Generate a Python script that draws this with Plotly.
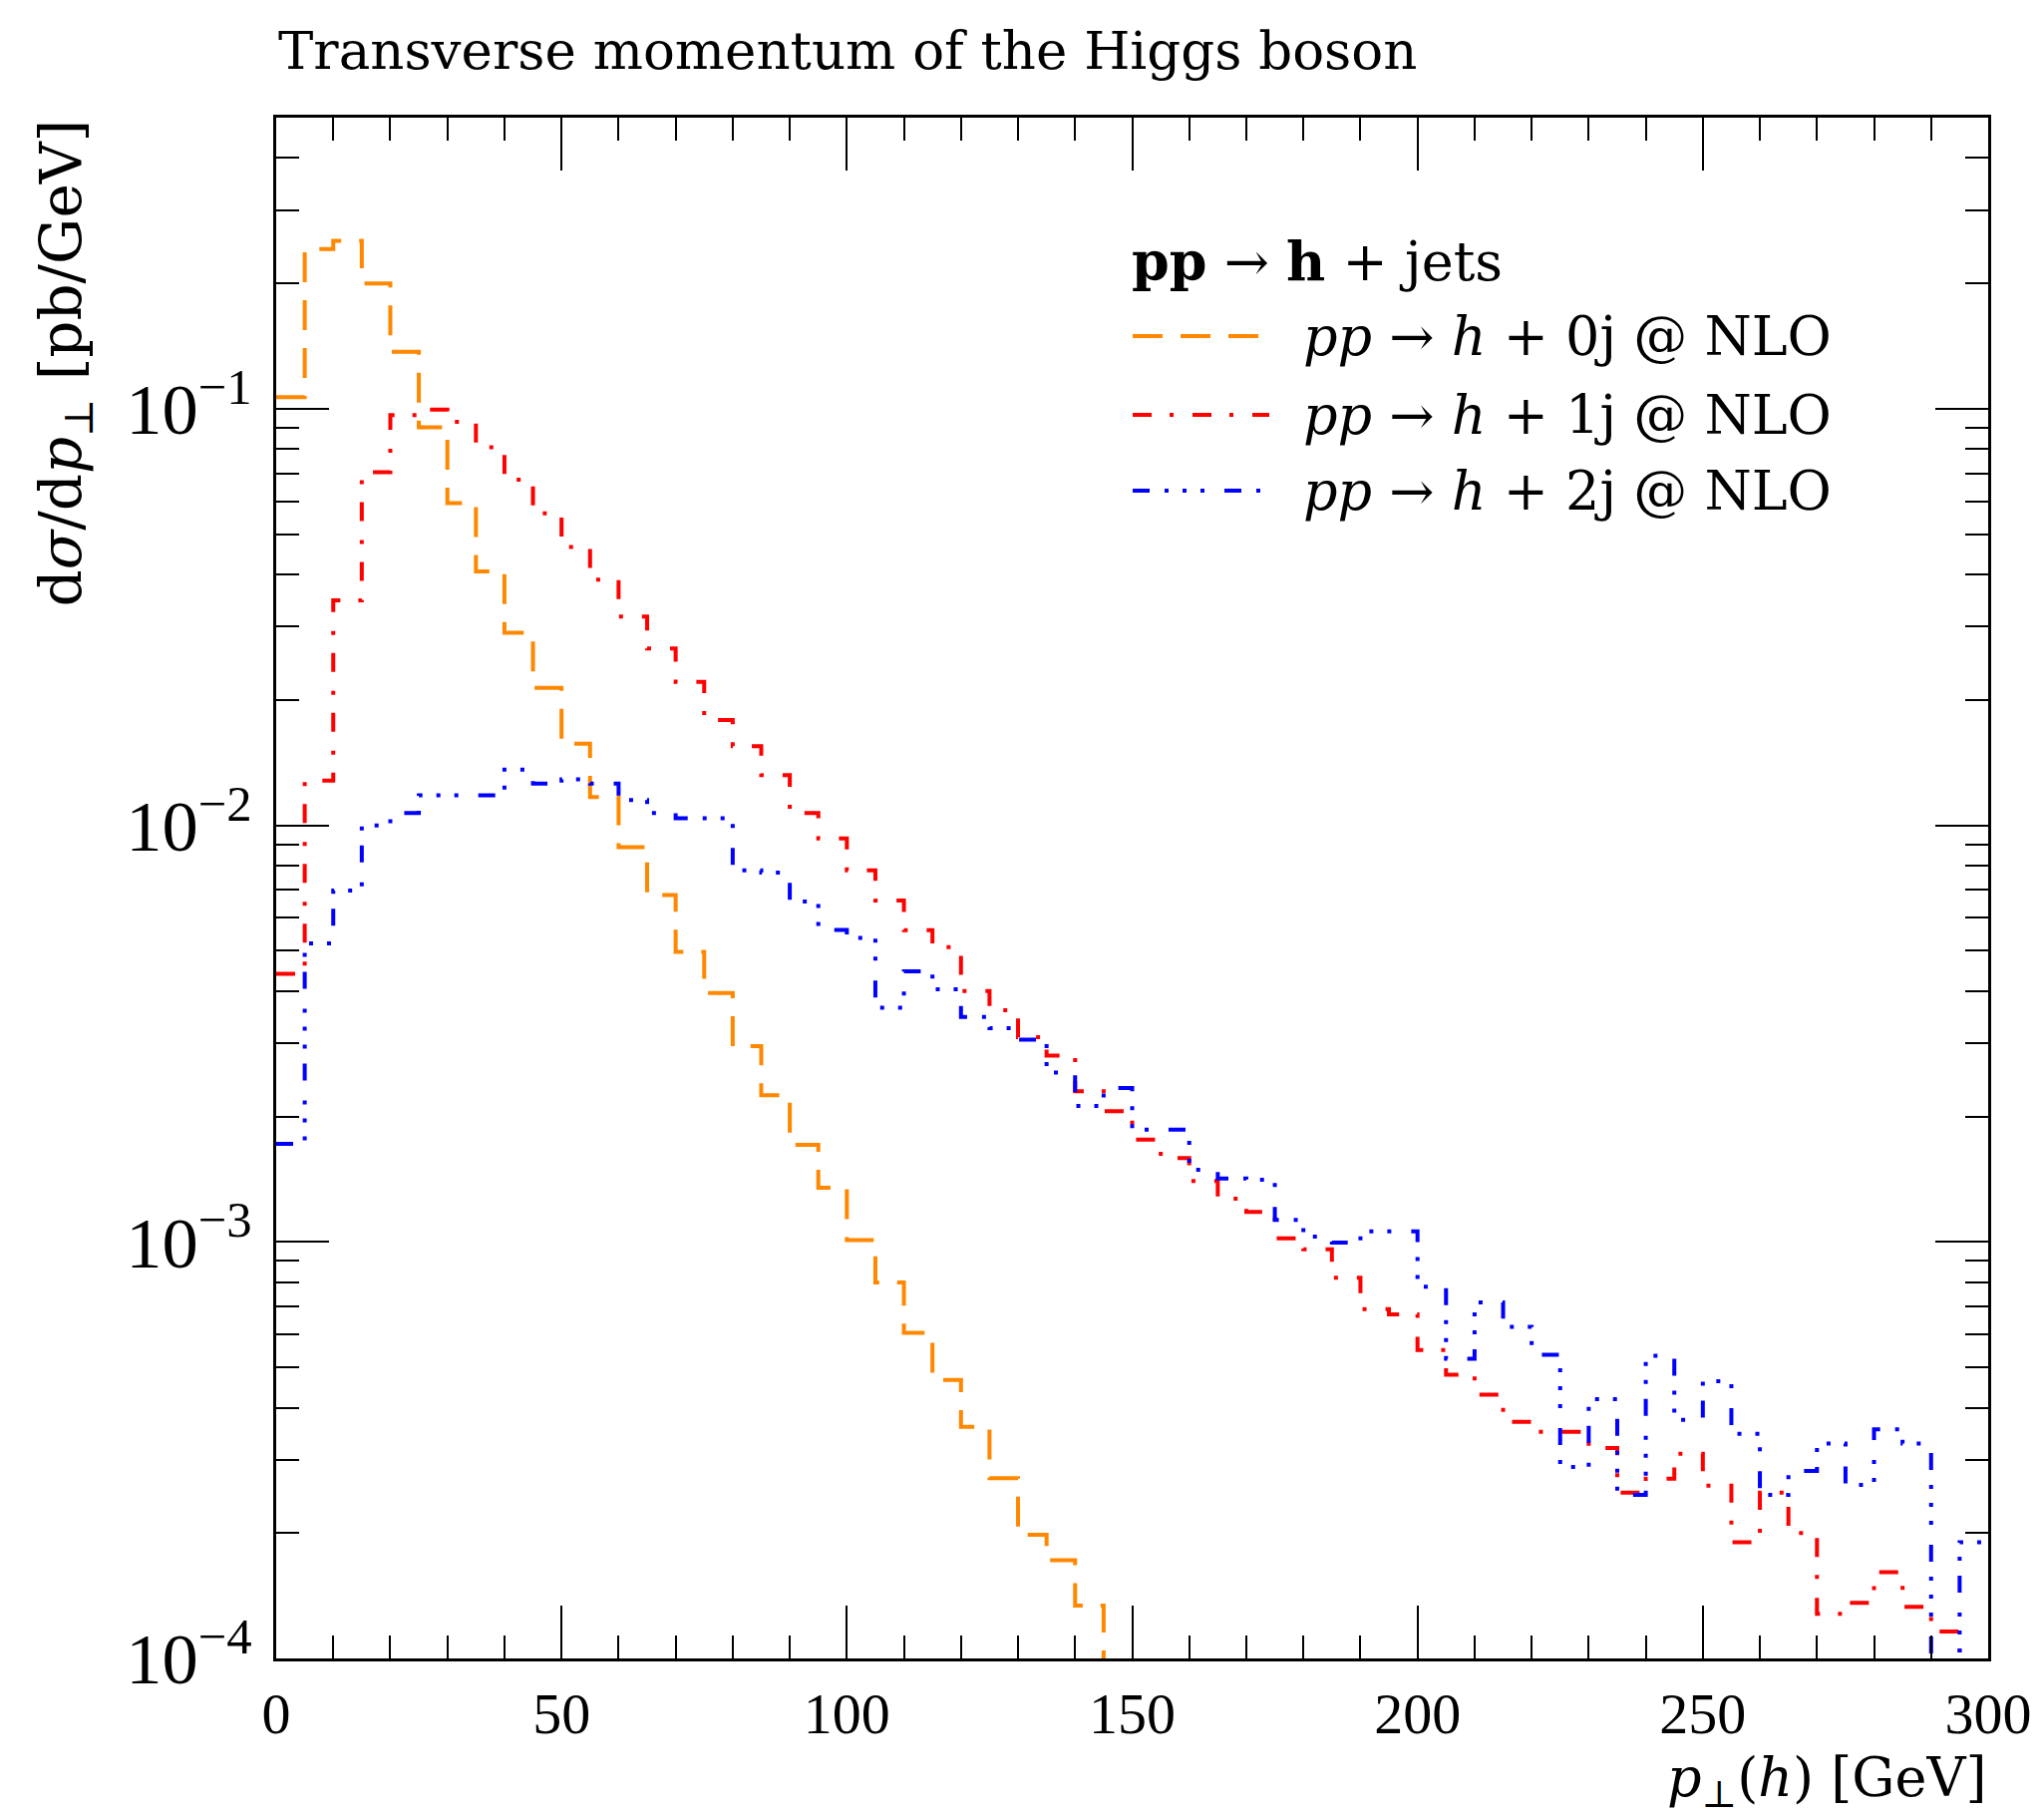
import plotly.graph_objects as go

# ---------------- data ----------------
bin_edges = [0, 5, 10, 15, 20, 25, 30, 35, 40, 45, 50, 55, 60, 65, 70, 75, 80, 85, 90, 95,
             100, 105, 110, 115, 120, 125, 130, 135, 140, 145, 150, 155, 160, 165, 170, 175,
             180, 185, 190, 195, 200, 205, 210, 215, 220, 225, 230, 235, 240, 245, 250, 255,
             260, 265, 270, 275, 280, 285, 290, 295, 300]

# pp -> h + 0j @ NLO (bins 0..29, nothing afterwards)
h0j = [0.1066, 0.242, 0.253, 0.200, 0.137, 0.0903, 0.0594, 0.0407, 0.0290, 0.0214,
       0.0157, 0.0117, 0.00887, 0.0068, 0.00497, 0.00396, 0.00295, 0.00225, 0.00171, 0.00135,
       0.00101, 0.000799, 0.000605, 0.000466, 0.000360, 0.000271, 0.000198, 0.000172, 0.000134, 0.00001]

# pp -> h + 1j @ NLO
h1j = [0.0044, 0.0128, 0.0347, 0.0704, 0.0966, 0.0995, 0.0931, 0.0809, 0.0676, 0.0561,
       0.0466, 0.0389, 0.0317, 0.0266, 0.0221, 0.0179, 0.0155, 0.0132, 0.0107, 0.0093,
       0.0078, 0.0066, 0.0056, 0.0051, 0.0040, 0.0036, 0.0031, 0.0028, 0.0023, 0.00206,
       0.00176, 0.00159, 0.00140, 0.00127, 0.00118, 0.00102, 0.00096, 0.00082, 0.00069, 0.00067,
       0.00055, 0.00048, 0.00043, 0.00037, 0.00035, 0.00035, 0.00032, 0.00025, 0.00027, 0.00031,
       0.00026, 0.00019, 0.00025, 0.00020, 0.000128, 0.000136, 0.000161, 0.000133, 0.000116, 0.00005]

# pp -> h + 2j @ NLO
h2j = [0.00172, 0.00521, 0.00697, 0.0100, 0.0107, 0.0118, 0.0118, 0.0118, 0.0136, 0.0126,
       0.0129, 0.0126, 0.0115, 0.0107, 0.0104, 0.0104, 0.0078, 0.0077, 0.00656, 0.00561,
       0.00537, 0.00365, 0.00446, 0.00404, 0.00347, 0.00326, 0.00306, 0.00255, 0.00212, 0.00234,
       0.00186, 0.00186, 0.00149, 0.00142, 0.00141, 0.00113, 0.00103, 0.000996, 0.00106, 0.00106,
       0.000781, 0.000524, 0.000716, 0.000625, 0.000536, 0.000288, 0.000419, 0.000247, 0.000533, 0.000374,
       0.000463, 0.000346, 0.000247, 0.000282, 0.000328, 0.000261, 0.000355, 0.000328, 0.00005, 0.000190]

x_ticks = [0, 50, 100, 150, 200, 250, 300]

series_names = ["<i>pp</i> → <i>h</i> + 0j @ NLO",
                "<i>pp</i> → <i>h</i> + 1j @ NLO",
                "<i>pp</i> → <i>h</i> + 2j @ NLO"]
legend_header = "<b>pp</b> → <b>h</b> + jets"
title_text = "Transverse momentum of the Higgs boson"
x_title = "<i>p</i><sub>⊥</sub>(<i>h</i>) [GeV]"
y_title = "d<i>σ</i>/d<i>p</i><sub>⊥</sub> [pb/GeV]"

# ---------------- style ----------------
NUMFONT = "Liberation Serif"
TXTFONT = "DejaVu Serif"
FS = 58
TS = 54
colors = ["#FF8800", "#FF0000", "#0000FF"]
dashes = ["30px,18px",
          "19px,18px,4px,19px",
          "17px,15px,4px,14px,4px,14px,4px,20px"]
LW = 4

fig = go.Figure()
for vals, col, dsh, name in zip([h0j, h1j, h2j], colors, dashes, series_names):
    n = len(vals)
    xs = bin_edges[:n + 1]
    ys = list(vals) + [vals[-1]]
    fig.add_trace(go.Scatter(x=xs, y=ys, mode="lines", line_shape="hv",
                             line=dict(color=col, width=LW, dash=dsh),
                             name=name, showlegend=False, hoverinfo="skip"))

W, H = 2050, 1822
L, R, T, B = 277, 56, 118, 159
pw, ph = W - L - R, H - T - B


def px(xf):
    return (xf - L) / pw


def py(yf):
    return (H - B - yf) / ph


# legend drawn by hand (samples as shapes, text as annotations)
rows_y = [337, 416, 492]
for col, dsh, name, yy in zip(colors, dashes, series_names, rows_y):
    fig.add_shape(type="line", xref="paper", yref="paper",
                  x0=px(1136), x1=px(1273), y0=py(yy), y1=py(yy),
                  line=dict(color=col, width=LW, dash=dsh))
    fig.add_annotation(xref="paper", yref="paper", x=px(1305), y=py(yy),
                       xanchor="left", yanchor="middle", text=name, showarrow=False,
                       font=dict(family=TXTFONT, size=TS, color="black"))
fig.add_annotation(xref="paper", yref="paper", x=px(1133), y=py(262),
                   xanchor="left", yanchor="middle", text=legend_header, showarrow=False,
                   font=dict(family=TXTFONT, size=TS, color="black"))

# title
fig.add_annotation(xref="paper", yref="paper", x=0, y=py(50),
                   xanchor="left", yanchor="middle", text=title_text, showarrow=False,
                   font=dict(family=TXTFONT, size=53, color="black"))
# axis titles
fig.add_annotation(xref="paper", yref="paper", x=1, y=py(1786),
                   xanchor="right", yanchor="middle", text=x_title, showarrow=False,
                   font=dict(family=TXTFONT, size=TS, color="black"))
fig.add_annotation(xref="paper", yref="paper", x=px(64), y=1,
                   xanchor="center", yanchor="top", textangle=-90, text=y_title,
                   showarrow=False, font=dict(family=TXTFONT, size=58, color="black"))

fig.update_layout(
    width=W, height=H,
    margin=dict(l=L, r=R, t=T, b=B, pad=0),
    paper_bgcolor="white", plot_bgcolor="white",
    font=dict(family=NUMFONT, size=FS, color="black"),
    showlegend=False,
    xaxis=dict(range=[0, 300], tickmode="array", tickvals=x_ticks,
               ticks="inside", ticklen=53, tickwidth=2, tickcolor="black",
               showline=True, linecolor="black", linewidth=2.5, mirror="allticks",
               showgrid=False, zeroline=False, ticklabelstandoff=3,
               tickfont=dict(family=NUMFONT, size=FS),
               minor=dict(dtick=10, tick0=0, ticks="inside", ticklen=23, tickwidth=2,
                          tickcolor="black", showgrid=False)),
    yaxis=dict(type="log", range=[-4, -0.301], dtick=1, exponentformat="power",
               showexponent="all",
               ticks="inside", ticklen=53, tickwidth=2, tickcolor="black",
               showline=True, linecolor="black", linewidth=2.5, mirror="allticks",
               showgrid=False, zeroline=False, ticklabelstandoff=10,
               tickfont=dict(family=NUMFONT, size=FS),
               minor=dict(dtick="D1", ticks="inside", ticklen=23, tickwidth=2,
                          tickcolor="black", showgrid=False)),
)

fig.write_html("out.html")
